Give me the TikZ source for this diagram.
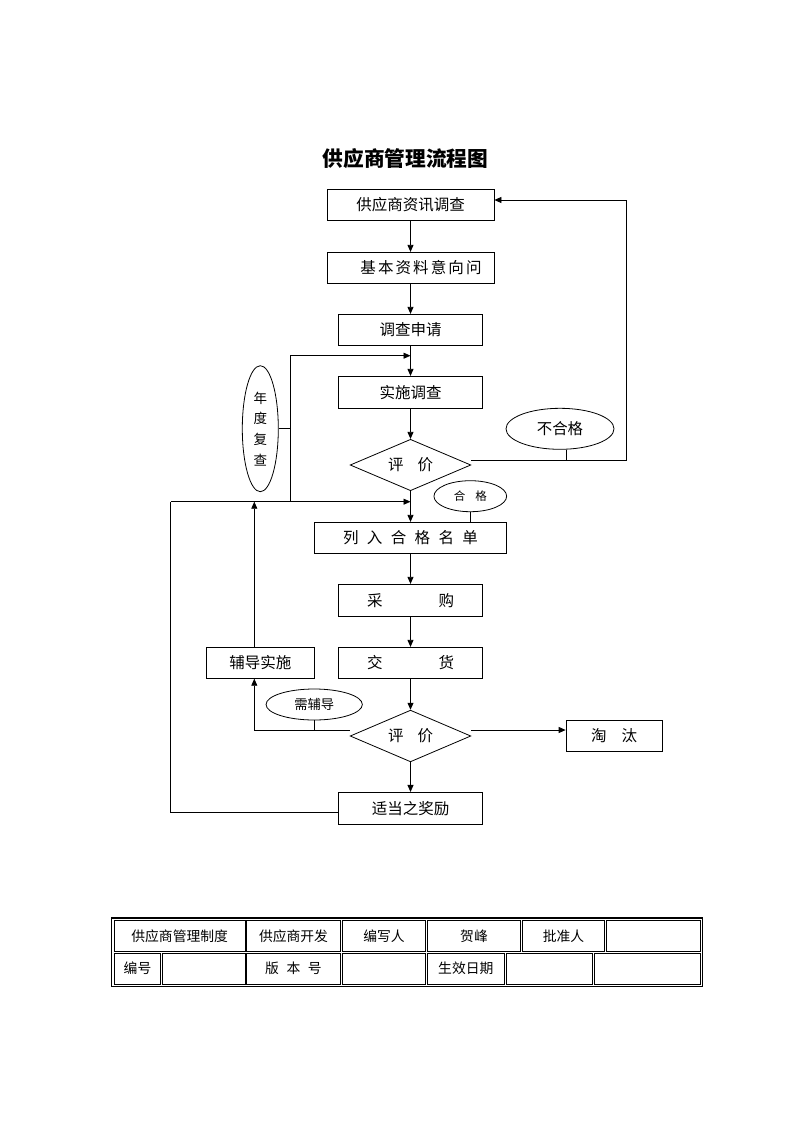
\documentclass[tikz,border=0pt]{standalone}
\usepackage{fontspec}
\setmainfont{Noto Sans CJK SC}
\usetikzlibrary{shapes.geometric,arrows.meta}
\newcommand{\fsz}[1]{\fontsize{#1pt}{#1pt}\selectfont}
\begin{document}
\begin{tikzpicture}[x=1pt,y=-1pt,
  box/.style={draw,line width=0.8pt,rectangle,inner sep=0pt,font=\fsz{15.5}},
  dia/.style={draw,line width=0.8pt,diamond,aspect=2.35,inner sep=0pt,font=\fsz{15.5}},
  ell/.style={draw,line width=0.8pt,ellipse,inner sep=0pt},
  cell/.style={draw,line width=0.7pt,rectangle,inner sep=0pt,font=\fsz{13.8}},
  ln/.style={line width=0.8pt},
  arr/.style={line width=0.8pt,-{Triangle[length=7pt,width=6pt]}}]
\useasboundingbox (0,0) rectangle (793,1122);
\fill[white] (0,0) rectangle (793,1122);

% title
\node[font=\fsz{20.7}\bfseries] (title) at (405.5,159) {供应商管理流程图};

% main column
\node[box,minimum width=167pt,minimum height=31pt] (b1) at (410.5,204.8) {供应商资讯调查};
\node[box,minimum width=167pt,minimum height=31pt] (b2) at (410.5,267.8) {\hspace*{21pt}基\hspace{2.1pt}本\hspace{2.1pt}资\hspace{2.1pt}料\hspace{2.1pt}意\hspace{2.1pt}向\hspace{2.1pt}问};
\node[box,minimum width=144.4pt,minimum height=31pt] (b3) at (410.5,329.8) {调查申请};
\node[box,minimum width=144.4pt,minimum height=32pt] (b4) at (410.5,392.3) {实施调查};
\node[dia,minimum width=120.7pt,minimum height=51.4pt] (d1) at (410.5,465) {评\hspace{14pt}价};
\node[box,minimum width=192.4pt,minimum height=31pt] (b5) at (410.5,537.8) {列\hspace{8.4pt}入\hspace{8.4pt}合\hspace{8.4pt}格\hspace{8.4pt}名\hspace{8.4pt}单};
\node[box,minimum width=144.4pt,minimum height=32pt] (b6) at (410.5,600.3) {采\hspace{56pt}购};
\node[box,minimum width=144.4pt,minimum height=31pt] (b7) at (410.5,662.8) {交\hspace{56pt}货};
\node[dia,minimum width=120.7pt,minimum height=51.7pt] (d2) at (410.5,736) {评\hspace{14pt}价};
\node[box,minimum width=144.4pt,minimum height=31.7pt] (rw) at (410.5,808.2) {适当之奖励};

% side nodes
\node[box,minimum width=108.7pt,minimum height=31pt] (fd) at (260.3,662.8) {辅导实施};
\node[box,minimum width=96.3pt,minimum height=31pt] (tt) at (614.2,735.5) {淘\hspace{15pt}汰};
\node[ell,minimum width=36pt,minimum height=126pt,align=center,font=\fontsize{13.5pt}{20.7pt}\selectfont] (nd) at (260.3,428.7) {年\\度\\复\\查};
\node[ell,minimum width=108pt,minimum height=41pt,font=\fsz{15.4}] (bhg) at (560,428.8) {不合格};
\node[ell,minimum width=72.7pt,minimum height=31pt,font=\fsz{11.5}] (hg) at (470.3,496.2) {合\hspace{10pt}格};
\node[ell,minimum width=96.3pt,minimum height=31pt,font=\fsz{13.3}] (xfd) at (314.2,704.5) {需辅导};

% helper coordinates
\coordinate (j1) at (410.5,355.7);
\coordinate (j1l) at (290,355.7);
\coordinate (j2) at (410.5,501.7);
\coordinate (j2m) at (290,501.7);
\coordinate (j2l) at (170.7,501.7);
\coordinate (r1) at (626,460);
\coordinate (r2) at (626,200);
\coordinate (d1e) at ([yshift=5pt]d1.east);
\coordinate (d2w) at ([yshift=6pt]d2.west);
\coordinate (d2e) at ([yshift=6pt]d2.east);
\coordinate (l1) at (254.3,730);
\coordinate (rwl) at ([yshift=-4.5pt]rw.west);

% main flow
\draw[arr] (b1.south) -- (b2.north);
\draw[arr] (b2.south) -- (b3.north);
\draw[arr] (b3.south) -- (b4.north);
\draw[arr] (b4.south) -- (d1.north);
\draw[arr] (d1.south) -- (b5.north);
\draw[arr] (b5.south) -- (b6.north);
\draw[arr] (b6.south) -- (b7.north);
\draw[arr] (b7.south) -- (d2.north);
\draw[arr] (d2.south) -- (rw.north);

% annual review loop
\draw[arr] (j1l) -- (j1);
\draw[ln] (j1l) -- (j2m);
\draw[ln] (nd.east) -- (nd.east -| j1l);
\draw[arr] (j2l) -- (j2);

% not qualified loop
\draw[arr] (d1e) -- (r1) -- (r2) -- (b1.east |- r2);
\draw[ln] (bhg.-72) -- (bhg.-72 |- r1);

% qualified label
\draw[ln] (hg.south) -- (hg.south |- b5.north);

% coaching
\draw[arr] (d2w) -- (l1) -- (l1 |- fd.south);
\draw[ln] (xfd.south) -- (xfd.south |- l1);
\draw[arr] (l1 |- fd.north) -- (l1 |- j2l);

% eliminate
\draw[arr] (d2e) -- (d2e -| tt.west);

% reward loop
\draw[ln] (rwl) -- (rwl -| j2l) -- (j2l);

% table
\node[draw,line width=1.2pt,rectangle,inner sep=0pt,minimum width=590.6pt,minimum height=68.7pt] (tab) at (407,952.35) {};
\node[cell,minimum width=130.7pt,minimum height=31.7pt] (c11) at (179.65,935.85) {供应商管理制度};
\node[cell,minimum width=94.4pt,minimum height=31.7pt] (c12) at (293.5,935.85) {供应商开发};
\node[cell,minimum width=83.4pt,minimum height=31.7pt] (c13) at (384,935.85) {编写人};
\node[cell,minimum width=93.4pt,minimum height=31.7pt] (c14) at (474,935.85) {贺峰};
\node[cell,minimum width=82.4pt,minimum height=31.7pt] (c15) at (563.5,935.85) {批准人};
\node[cell,minimum width=93.7pt,minimum height=31.7pt] (c16) at (653.15,935.85) {};
\node[cell,minimum width=46.4pt,minimum height=30.7pt] (c21) at (137.5,968.65) {编号};
\node[cell,minimum width=82.7pt,minimum height=30.7pt] (c22) at (203.65,968.65) {};
\node[cell,minimum width=94.4pt,minimum height=30.7pt] (c23) at (293.5,968.65) {版\hspace{7.6pt}本\hspace{7.6pt}号};
\node[cell,minimum width=83.4pt,minimum height=30.7pt] (c24) at (384,968.65) {};
\node[cell,minimum width=77pt,minimum height=30.7pt] (c25) at (465.8,968.65) {生效日期};
\node[cell,minimum width=86.7pt,minimum height=30.7pt] (c26) at (549.35,968.65) {};
\node[cell,minimum width=105.7pt,minimum height=30.7pt] (c27) at (647.15,968.65) {};
\end{tikzpicture}
\end{document}
